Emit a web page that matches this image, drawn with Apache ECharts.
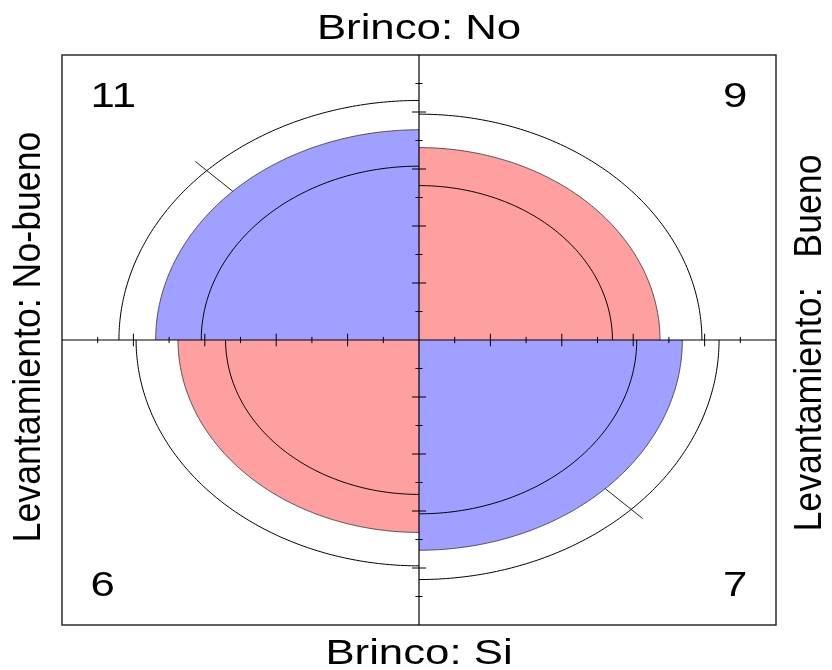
<!DOCTYPE html>
<html>
<head>
<meta charset="utf-8">
<title>Brinco x Levantamiento</title>
<script src="https://cdn.jsdelivr.net/npm/echarts@6/dist/echarts.min.js"></script>
<style>
  html, body { margin: 0; padding: 0; background: #fff; }
  #chart { width: 832px; height: 670px; }
</style>
</head>
<body>
<div id="chart"></div>
<script>
// 2x2 table: rows = Brinco, columns = Levantamiento
const rowVar = 'Brinco';
const rowLevels = ['No', 'Si'];
const colVar = 'Levantamiento';
const colLevels = ['No-bueno', 'Bueno'];
const counts = [
  [11, 9],
  [6, 7]
];
// tick positions along the two axes (in standardized units)
const tickValues = [0.1, 0.2, 0.3, 0.4, 0.5, 0.6, 0.7, 0.8, 0.9];
const confLevel = 0.95;
// outer end of the odds-ratio marker on the diagonal quadrants
const markerOuter = 0.886;

// ---- fourfold standardization (equal row and column margins) ----
function stdCells(theta) {
  const s = Math.sqrt(theta);
  const a = s / (1 + s);
  return [[a, 1 - a], [1 - a, a]];
}
const oddsRatio = (counts[0][0] * counts[1][1]) / (counts[0][1] * counts[1][0]);
const seLog = Math.sqrt(counts.flat().reduce((s, n) => s + 1 / n, 0));
const zq = 1.959964; // normal quantile for confLevel
const orLow = Math.exp(Math.log(oddsRatio) - zq * seLog);
const orHigh = Math.exp(Math.log(oddsRatio) + zq * seLog);
const cellStd = stdCells(oddsRatio);
const cellLow = stdCells(orLow);
const cellHigh = stdCells(orHigh);

// quadrant angular ranges (degrees) for cell [i][j]
const quadAngles = [[[90, 180], [0, 90]], [[180, 270], [270, 360]]];
// count label anchors: left column left-aligned, right column right-aligned
const quadLabelPos = [[[-0.92, 0.85], [0.92, 0.85]], [[-0.92, -0.865], [0.92, -0.865]]];

const COLOR_BLUE = '#9FA0FF';
const COLOR_RED = '#FFA0A0';
const STRETCH = 1.25;
const FONT = '35px "Liberation Sans", Arial, sans-serif';

const quadData = [];
for (let i = 0; i < 2; i++) for (let j = 0; j < 2; j++) quadData.push([i, j]);

function arcPoints(api, r, a0, a1, n) {
  const pts = [];
  for (let k = 0; k <= n; k++) {
    const t = (a0 + (a1 - a0) * k / n) * Math.PI / 180;
    pts.push(api.coord([r * Math.cos(t), r * Math.sin(t)]));
  }
  return pts;
}

function renderQuadrant(params, api) {
  const i = api.value(0), j = api.value(1);
  const diag = (i === j);
  const [a0, a1] = quadAngles[i][j];
  const r = Math.sqrt(cellStd[i][j]);
  const rA = Math.sqrt(cellLow[i][j]);
  const rB = Math.sqrt(cellHigh[i][j]);
  const arc = arcPoints(api, r, a0, a1, 120);
  const children = [];
  children.push({
    type: 'polygon',
    shape: { points: [api.coord([0, 0])].concat(arc) },
    style: { fill: diag ? COLOR_BLUE : COLOR_RED, stroke: null }
  });
  children.push({
    type: 'polyline',
    shape: { points: arc },
    style: { stroke: '#333', lineWidth: 0.8, fill: null }
  });
  [rA, rB].forEach(rr => {
    children.push({
      type: 'polyline',
      shape: { points: arcPoints(api, rr, a0, a1, 120) },
      style: { stroke: '#000', lineWidth: 1, fill: null }
    });
  });
  if (diag) {
    const t = ((a0 + a1) / 2) * Math.PI / 180;
    const p0 = api.coord([r * Math.cos(t), r * Math.sin(t)]);
    const p1 = api.coord([markerOuter * Math.cos(t), markerOuter * Math.sin(t)]);
    children.push({
      type: 'line',
      shape: { x1: p0[0], y1: p0[1], x2: p1[0], y2: p1[1] },
      style: { stroke: '#222', lineWidth: 1 }
    });
  }
  const lp = api.coord(quadLabelPos[i][j]);
  children.push({
    type: 'text',
    x: lp[0], y: lp[1],
    scaleX: STRETCH,
    style: {
      text: String(counts[i][j]), font: FONT, fill: '#000',
      align: j === 0 ? 'left' : 'right', verticalAlign: 'middle'
    }
  });
  return { type: 'group', children };
}

function renderAxes(params, api) {
  const children = [];
  const L = api.coord([-1, 0]), R = api.coord([1, 0]);
  const T = api.coord([0, 1]), B = api.coord([0, -1]);
  children.push({ type: 'line', shape: { x1: L[0], y1: L[1], x2: R[0], y2: R[1] },
    style: { stroke: '#000', lineWidth: 1.2 } });
  children.push({ type: 'line', shape: { x1: T[0], y1: T[1], x2: B[0], y2: B[1] },
    style: { stroke: '#000', lineWidth: 1.2 } });
  tickValues.forEach((v, k) => {
    const len = (k % 2 === 1) ? 0.022 : 0.011;
    [-1, 1].forEach(sg => {
      // ticks across the horizontal axis
      const h0 = api.coord([sg * v, -len]), h1 = api.coord([sg * v, len]);
      children.push({ type: 'line', shape: { x1: h0[0], y1: h0[1], x2: h1[0], y2: h1[1] },
        style: { stroke: '#000', lineWidth: 1 } });
      // ticks across the vertical axis
      const v0 = api.coord([-len * 0.9, sg * v]), v1 = api.coord([len * 0.9, sg * v]);
      children.push({ type: 'line', shape: { x1: v0[0], y1: v0[1], x2: v1[0], y2: v1[1] },
        style: { stroke: '#000', lineWidth: 1 } });
    });
  });
  return { type: 'group', children };
}

const chart = echarts.init(document.getElementById('chart'), null, { renderer: 'canvas' });
const gridBox = { left: 62, top: 55, width: 714, height: 570 };
const cx = gridBox.left + gridBox.width / 2;
const cy = gridBox.top + gridBox.height / 2;

function sideText(text, x, y, rotation) {
  return {
    type: 'text', x, y, rotation,
    scaleX: rotation ? 1.02 : STRETCH,
    scaleY: rotation ? 1.12 : 1,
    style: { text, font: FONT, fill: '#000', align: 'center', verticalAlign: 'middle' },
    z: 10
  };
}

chart.setOption({
  animation: false,
  backgroundColor: '#fff',
  grid: {
    left: gridBox.left, top: gridBox.top, width: gridBox.width, height: gridBox.height,
    show: true, borderColor: '#2b2b2b', borderWidth: 1.5, backgroundColor: 'transparent'
  },
  xAxis: { type: 'value', min: -1, max: 1, show: false },
  yAxis: { type: 'value', min: -1, max: 1, show: false },
  series: [
    { type: 'custom', renderItem: renderQuadrant, data: quadData, clip: false, z: 2, silent: true },
    { type: 'custom', renderItem: renderAxes, data: [[0, 0]], clip: false, z: 3, silent: true }
  ],
  graphic: [
    sideText(rowVar + ': ' + rowLevels[0], cx, 29, 0),
    sideText(rowVar + ': ' + rowLevels[1], cx, 654, 0),
    sideText(colVar + ': ' + colLevels[0], 29, cy - 3, Math.PI / 2),
    sideText(colVar + ':   ' + colLevels[1], 810, cy + 3, Math.PI / 2)
  ]
});
</script>
</body>
</html>
